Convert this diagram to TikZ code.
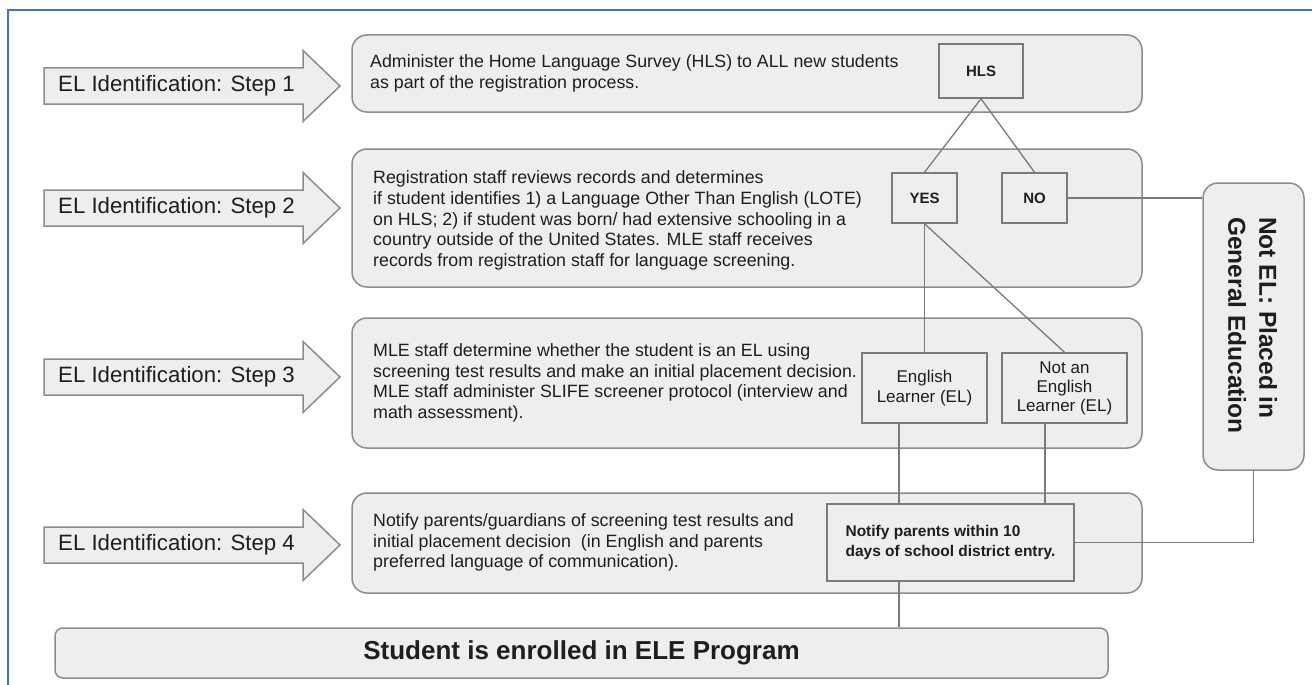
\documentclass[tikz,border=0pt]{standalone}
\usepackage{fontspec}
\setmainfont{Liberation Sans}
\usetikzlibrary{calc}
\definecolor{boxfill}{HTML}{EEEEEE}
\definecolor{boxline}{HTML}{8C8C8C}
\definecolor{linkgray}{HTML}{7A7A7A}
\definecolor{frameblue}{HTML}{4472C4}
\definecolor{ink}{HTML}{1E1E1E}

\begin{document}
\begin{tikzpicture}[x=1pt,y=-1pt,
  stepbox/.style={draw=boxline, fill=boxfill, line width=1.5pt, rounded corners=15pt, inner sep=0pt},
  arrowshape/.style={draw=boxline, fill=boxfill, line width=1.5pt, line join=miter},
  steptext/.style={anchor=west, inner sep=0pt, align=left, text=ink, font=\fontsize{17.8}{20.7}\selectfont},
  steplabel/.style={anchor=west, inner sep=0pt, text=ink, font=\fontsize{22.2}{26}\selectfont},
  subbox/.style={draw=linkgray, fill=boxfill, line width=1.5pt, inner sep=0pt, align=center, text=ink},
  link/.style={draw=linkgray, line width=1.3pt},
]
\useasboundingbox (0,0) rectangle (1312,685);
\fill[white] (0,0) rectangle (1312,685);
\draw[frameblue, line width=2pt] (8,685) -- (8,10) -- (1312,10);

% block arrows naming the four steps
\foreach \n/\y in {1/86, 2/208, 3/377, 4/545}{
  \draw[arrowshape] (44,\y-18) -- (303,\y-18) -- (303,\y-35.5) -- (340,\y)
        -- (303,\y+35.5) -- (303,\y+18) -- (44,\y+18) -- cycle;
  \node[steplabel] (lab\n) at (58,\y) {EL Identification: Step \n};
}

% step panels
\node[stepbox, minimum width=790, minimum height=77]  (s1) at (747,73.5) {};
\node[stepbox, minimum width=790, minimum height=138] (s2) at (747,218) {};
\node[stepbox, minimum width=790, minimum height=130] (s3) at (747,383) {};
\node[stepbox, minimum width=790, minimum height=100] (s4) at (747,543) {};

\node[steptext] (t1) at (370,73.5) {Administer the Home Language Survey (HLS) to ALL new students\\as part of the registration process.};
\node[steptext] (t2) at (373,220.5) {Registration staff reviews records and determines\\if student identifies 1) a Language Other Than English (LOTE)\\on HLS; 2) if student was born/ had extensive schooling in a\\country outside of the United States. MLE staff receives\\records from registration staff for language screening.};
\node[steptext] (t3) at (373,383) {MLE staff determine whether the student is an EL using\\screening test results and make an initial placement decision.\\MLE staff administer SLIFE screener protocol (interview and\\math assessment).};
\node[steptext] (t4) at (373,542.5) {Notify parents/guardians of screening test results and\\initial placement decision\ \ (in English and parents\\preferred language of communication).};

% final outcome bar
\node[stepbox, rounded corners=8pt, minimum width=1053, minimum height=50, text=ink,
      font=\fontsize{26}{30}\bfseries\selectfont] (enrol) at (581.5,653) {Student is enrolled in ELE Program};

% side panel for students who are not EL
\node[stepbox, minimum width=101, minimum height=287] (side) at (1253.5,326.5) {};
\node[rotate=-90, anchor=west, align=left, inner sep=0pt, text=ink,
      font=\fontsize{24.5}{31}\bfseries\selectfont] (sidetext) at (1252.5,217)
      {Not EL: Placed in\\General Education};

% decision boxes
\node[subbox, minimum width=84, minimum height=54, font=\fontsize{15}{18}\bfseries\selectfont] (hls) at (981,71) {HLS};
\node[subbox, minimum width=65, minimum height=50, font=\fontsize{15}{18}\bfseries\selectfont] (yes) at (924.5,198) {YES};
\node[subbox, minimum width=65, minimum height=50, font=\fontsize{15}{18}\bfseries\selectfont] (no) at (1034.5,198) {NO};
\node[subbox, minimum width=125, minimum height=70, font=\fontsize{17}{20}\selectfont] (el) at (924.5,388) {English\\Learner (EL)};
\node[subbox, minimum width=125, minimum height=70, font=\fontsize{17}{19}\selectfont] (notel) at (1064.5,388) {Not an\\English\\Learner (EL)};
\node[subbox, minimum width=247, minimum height=77, align=left, font=\fontsize{15.5}{20}\bfseries\selectfont] (notify) at (950.5,542.5) {Notify parents within 10\\days of school district entry.};

% connectors
\draw[link] (hls.south) -- (yes.north);
\draw[link] (hls.south) -- (no.north);
\draw[link] (no.east) -- (no.east -| side.west);
\draw[link] (yes.south) -- (el.north);
\draw[link] (yes.south) -- (notel.north);
\coordinate (elout) at ($(el.south)+(-25.5,0)$);
\coordinate (notelout) at ($(notel.south)+(-19.5,0)$);
\coordinate (notifyout) at ($(notify.south)+(-51.5,0)$);
\draw[link] (elout) -- (elout |- notify.north);
\draw[link] (notelout) -- (notelout |- notify.north);
\draw[link] (notify.east) -| (side.south);
\draw[link] (notifyout) -- (notifyout |- enrol.north);
\end{tikzpicture}
\end{document}
